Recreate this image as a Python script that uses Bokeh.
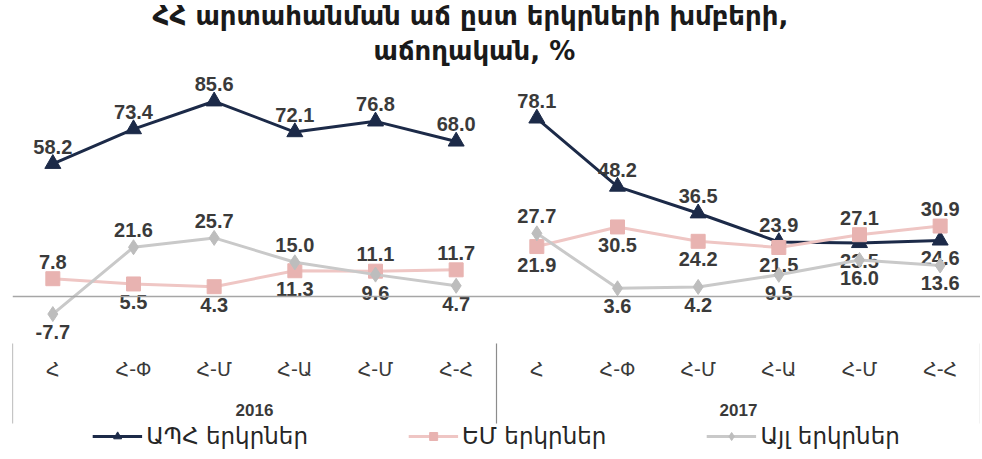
from bokeh.plotting import figure
from bokeh.models import Range1d, Span, Legend, LegendItem, Title, ColumnDataSource
from bokeh.embed import file_html
from bokeh.resources import INLINE
from bokeh.core.properties import value

# ---------------- data ----------------
title_lines = ["ՀՀ արտահանման աճ ըստ երկրների խմբերի,", "աճողական, %"]
years = ["2016", "2017"]
months = ["Հ", "Հ-Փ", "Հ-Մ", "Հ-Ա", "Հ-Մ", "Հ-Հ"]
series_names = ["ԱՊՀ երկրներ", "ԵՄ երկրներ", "Այլ երկրներ"]

cis_2016 = [58.2, 73.4, 85.6, 72.1, 76.8, 68.0]
cis_2017 = [78.1, 48.2, 36.5, 23.9, 23.5, 24.6]
eu_2016 = [7.8, 5.5, 4.3, 11.3, 11.1, 11.7]
eu_2017 = [21.9, 30.5, 24.2, 21.5, 27.1, 30.9]
other_2016 = [-7.7, 21.6, 25.7, 15.0, 9.6, 4.7]
other_2017 = [27.7, 3.6, 4.2, 9.5, 16.0, 13.6]

# label placement (style): "a" above the point, "b" below
cis_side = [["a"] * 6, ["a", "a", "a", "a", "b", "b"]]
eu_side = [["a", "b", "b", "b", "a", "a"], ["b", "b", "b", "b", "a", "a"]]
other_side = [["b", "a", "a", "a", "b", "b"], ["a", "b", "b", "b", "b", "b"]]

series = [
    dict(name=series_names[0], vals=[cis_2016, cis_2017], side=cis_side,
         marker="triangle", size=16, mcolor="#1c2a48", lcolor="#1c2a48"),
    dict(name=series_names[1], vals=[eu_2016, eu_2017], side=eu_side,
         marker="square", size=14, mcolor="#e8b3b1", lcolor="#efc6c4"),
    dict(name=series_names[2], vals=[other_2016, other_2017], side=other_side,
         marker="diamond", size=15, mcolor="#bdbdbd", lcolor="#c9c9c9"),
]

n = len(months)
ARM = "DejaVu Sans"
NUM = "Liberation Sans"

# layout constants (value units): category-label rows and separator extent below the zero line
MONTH_ROW_Y = -31.6
YEAR_ROW_Y = -49.6
SEP_TOP_Y = -20.6
SEP_BOTTOM_Y = -55.7

p = figure(frame_width=968, frame_height=382, x_range=Range1d(-0.5, len(years) * n - 0.5),
           y_range=Range1d(-68.4, 99.1), output_backend="svg", toolbar_location=None,
           x_axis_location=None, y_axis_location=None,
           min_border_left=12, min_border_right=0, min_border_top=14, min_border_bottom=0)
p.grid.visible = False
p.outline_line_color = None

# zero line
p.add_layout(Span(location=0, dimension="width", line_color="#a6a6a6", line_width=1.5))

legend_items = []
for s in series:
    rends = []
    for gi, vals in enumerate(s["vals"]):
        xs = [gi * n + i for i in range(n)]
        src = ColumnDataSource(dict(x=xs, y=vals))
        ln = p.line("x", "y", source=src, line_color=s["lcolor"], line_width=3)
        sc = p.scatter("x", "y", source=src, marker=s["marker"], size=s["size"],
                       fill_color=s["mcolor"], line_color=s["mcolor"])
        if gi == 0:
            rends = [ln, sc]
        for side in ("a", "b"):
            idx = [i for i in range(n) if s["side"][gi][i] == side]
            tsrc = ColumnDataSource(dict(x=[xs[i] for i in idx], y=[vals[i] for i in idx],
                                         lab=[f"{vals[i]:.1f}" for i in idx]))
            p.text("x", "y", text="lab", source=tsrc, text_align="center",
                   text_baseline="bottom" if side == "a" else "top",
                   y_offset=-10 if side == "a" else 11,
                   text_font=value(NUM), text_font_style="bold",
                   text_font_size="20px", text_color="#3a3a3a")
    legend_items.append(LegendItem(label=s["name"], renderers=rends))

# category axis: month row, year row, group separators
all_x = list(range(len(years) * n))
msrc = ColumnDataSource(dict(x=all_x, y=[MONTH_ROW_Y] * len(all_x),
                             lab=[months[x % n] for x in all_x]))
p.text("x", "y", text="lab", source=msrc, text_align="center", text_baseline="middle",
       text_font=value(ARM), text_font_size="19px", text_color="#3a3a3a")

centers = [gi * n + (n - 1) / 2 for gi in range(len(years))]
ysrc = ColumnDataSource(dict(x=centers, y=[YEAR_ROW_Y] * len(centers), lab=years))
p.text("x", "y", text="lab", source=ysrc, text_align="center", text_baseline="middle",
       text_font=value(NUM), text_font_style="bold", text_font_size="17px", text_color="#3a3a3a")

bounds = [gi * n - 0.5 for gi in range(len(years) + 1)]
p.segment(x0=bounds, y0=[SEP_TOP_Y] * len(bounds), x1=bounds, y1=[SEP_BOTTOM_Y] * len(bounds),
          line_color="#8c8c8c", line_width=1.2)

legend = Legend(items=legend_items, orientation="horizontal", location="bottom_center",
                spacing=100, glyph_width=50, label_standoff=4,
                label_text_font=ARM, label_text_font_size="23px", label_text_color="#262626",
                border_line_color=None, background_fill_alpha=0, padding=0, margin=3)
p.add_layout(legend, "center")

p.add_layout(Title(text=title_lines[1], align="left", text_font=ARM, text_font_size="26px",
                   text_font_style="bold", text_color="#1a1a1a", standoff=9, offset=361), "above")
p.add_layout(Title(text=title_lines[0], align="left", text_font=ARM, text_font_size="26px",
                   text_font_style="bold", text_color="#1a1a1a", standoff=-3, offset=140), "above")

open("out.html", "w").write(file_html(p, INLINE))
